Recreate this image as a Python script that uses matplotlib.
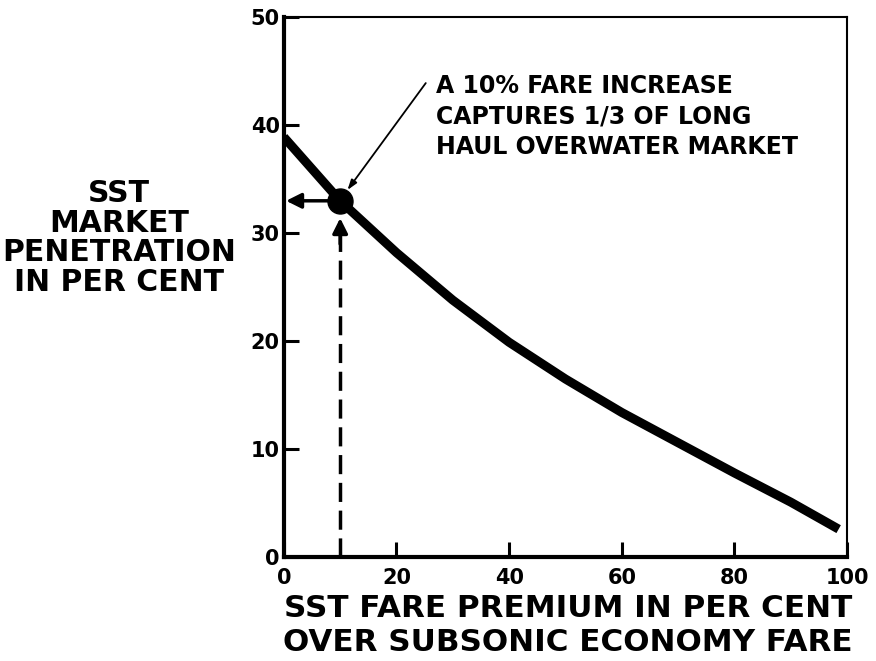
import matplotlib
matplotlib.use("Agg")
import matplotlib.pyplot as plt

plt.rcParams["font.family"] = ["DejaVu Sans"]
plt.rcParams["font.weight"] = "bold"

# curve
fare_premium = [0, 10, 20, 30, 40, 50, 60, 70, 80, 90, 98.5]
penetration = [38.9, 33.0, 28.2, 23.8, 19.9, 16.5, 13.4, 10.6, 7.8, 5.1, 2.6]
x_ticks = [0, 20, 40, 60, 80, 100]
y_ticks = [0, 10, 20, 30, 40, 50]
point_x, point_y = 10, 33.0
note = "A 10% FARE INCREASE\nCAPTURES 1/3 OF LONG\nHAUL OVERWATER MARKET"

fig = plt.figure(figsize=(8.76, 6.61), dpi=100)
ax = fig.add_axes([0.324, 0.157, 0.643, 0.817])

ax.plot(fare_premium, penetration, color="black", lw=6.5, solid_capstyle="butt", zorder=3)
ax.plot([point_x], [point_y], "o", color="black", ms=18, zorder=4)

# arrow to y axis
ax.annotate("", xy=(0.4, point_y), xytext=(point_x, point_y),
            arrowprops=dict(arrowstyle="-|>,head_length=0.9,head_width=0.45", color="black", lw=2.5,
                            shrinkA=0, shrinkB=0), zorder=3)
# dashed line up to the point
ax.plot([point_x, point_x], [0, 30.4], color="black", lw=2.5, dashes=(5.5, 2.5), zorder=2)
ax.annotate("", xy=(point_x, 31.4), xytext=(point_x, 29.0),
            arrowprops=dict(arrowstyle="-|>,head_length=0.9,head_width=0.45", color="black", lw=2.5,
                            shrinkA=0, shrinkB=0), zorder=3)

# callout
ax.annotate("", xy=(point_x + 1.3, point_y + 1.0), xytext=(25.2, 43.9),
            arrowprops=dict(arrowstyle="-|>,head_length=0.6,head_width=0.2", color="black", lw=1.3,
                            shrinkA=0, shrinkB=0))
ax.text(27.0, 40.8, note, fontsize=17, fontweight="bold", va="center", ha="left",
        linespacing=1.36)

ax.set_xlim(0, 100)
ax.set_ylim(0, 50)
ax.set_xticks(x_ticks)
ax.set_yticks(y_ticks)
ax.tick_params(direction="in", length=11, width=2.2, labelsize=15, pad=3)
ax.tick_params(axis="x", pad=8)
for lab in ax.get_xticklabels() + ax.get_yticklabels():
    lab.set_fontweight("bold")

ax.spines["left"].set_linewidth(3)
ax.spines["bottom"].set_linewidth(3)
ax.spines["top"].set_linewidth(1.5)
ax.spines["right"].set_linewidth(1.5)

fig.text(0.136, 0.640, "SST\nMARKET\nPENETRATION\nIN PER CENT", fontsize=21.5, fontweight="bold",
         ha="center", va="center", linespacing=1.02)
fig.text(0.648, 0.054, "SST FARE PREMIUM IN PER CENT\nOVER SUBSONIC ECONOMY FARE", fontsize=22.3,
         fontweight="bold", ha="center", va="center", linespacing=1.2)

fig.savefig("out.png", dpi=100)
